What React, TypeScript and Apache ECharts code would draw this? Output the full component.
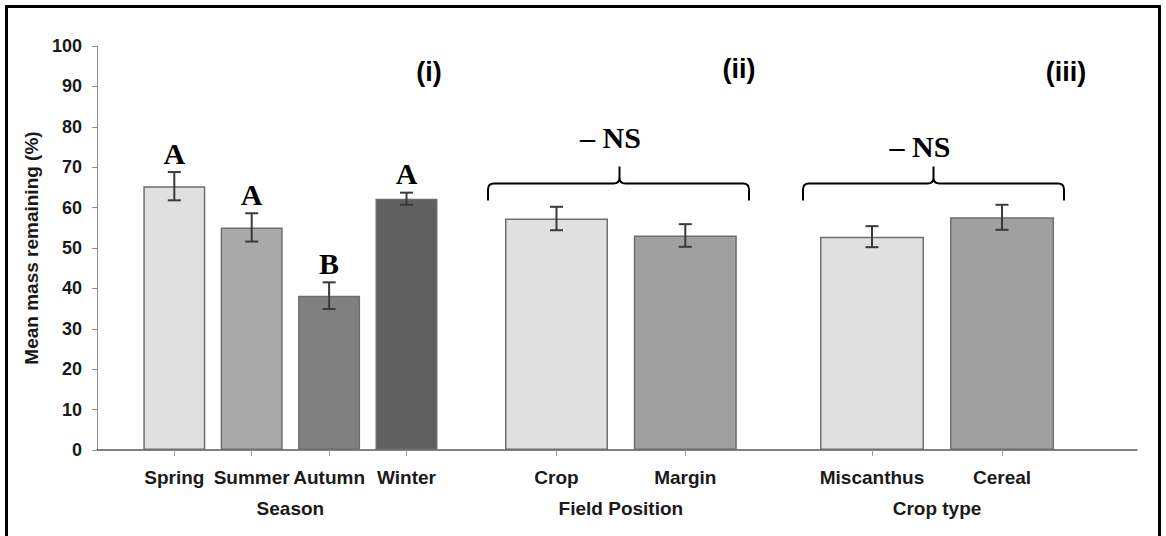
import React, { useEffect, useRef } from "react";
import * as echarts from "echarts";

// ---- data ----
const seasonCats = ["Spring", "Summer", "Autumn", "Winter"];
const seasonMeans = [65.3, 55.1, 38.2, 62.2];
const seasonErrs = [3.5, 3.5, 3.3, 1.5];
const seasonLetters = ["A", "A", "B", "A"];
const seasonColors = ["#e0e0e0", "#aaaaaa", "#808080", "#606060"];

const positionCats = ["Crop", "Margin"];
const positionMeans = [57.3, 53.1];
const positionErrs = [2.9, 2.8];

const cropCats = ["Miscanthus", "Cereal"];
const cropMeans = [52.8, 57.6];
const cropErrs = [2.6, 3.1];

const pairColors = ["#e0e0e0", "#a0a0a0"];

const groupTitles = ["Season", "Field Position", "Crop type"];
const panelLabels = ["(i)", "(ii)", "(iii)"];
const nsLabel = "\u2013 NS";
const yTitle = "Mean mass remaining (%)";
const yMin = 0;
const yMax = 100;
const yStep = 10;

// ---- layout ----
const W = 1166;
const H = 536;
const PLOT_LEFT = 97;
const PLOT_RIGHT = 1137;
const PLOT_TOP = 46;
const PLOT_BOTTOM = 450;

const SANS = '"Liberation Sans", Arial, sans-serif';
const SERIF = '"Liberation Serif", "Times New Roman", serif';
const TEXT = "#1a1a1a";

const groups = [
  { cats: seasonCats, means: seasonMeans, errs: seasonErrs, colors: seasonColors, letters: seasonLetters, left: 135.6, width: 309.6, barWidth: 62 },
  { cats: positionCats, means: positionMeans, errs: positionErrs, colors: pairColors, letters: null, left: 492.1, width: 257.6, barWidth: 103 },
  { cats: cropCats, means: cropMeans, errs: cropErrs, colors: pairColors, letters: null, left: 807, width: 260, barWidth: 104 },
];

// curly braces spanning the two-bar panels
function bracePath(xl: number, xr: number, xc: number, y0: number, drop: number, rise: number, r: number) {
  return (
    `M${xl} ${y0 + drop} L${xl} ${y0 + r} Q${xl} ${y0} ${xl + r} ${y0} L${xc - r} ${y0} ` +
    `Q${xc} ${y0} ${xc} ${y0 - r} L${xc} ${y0 - rise} M${xc} ${y0 - r} Q${xc} ${y0} ${xc + r} ${y0} ` +
    `L${xr - r} ${y0} Q${xr} ${y0} ${xr} ${y0 + r} L${xr} ${y0 + drop}`
  );
}
echarts.graphic.registerShape("braceFieldPosition", echarts.graphic.extendPath(bracePath(488, 749, 619.5, 183.5, 17, 17, 6), {}));
echarts.graphic.registerShape("braceCropType", echarts.graphic.extendPath(bracePath(803, 1064, 933.5, 183.5, 17, 17, 6), {}));

function errorSeries(gi: number, means: number[], errs: number[], letters: string[] | null) {
  return {
    type: "custom",
    xAxisIndex: gi,
    yAxisIndex: gi,
    z: 5,
    encode: { x: 0, y: [1, 2] },
    data: means.map((m, i) => [i, m - errs[i], m + errs[i]]),
    renderItem: (_params: any, api: any) => {
      const idx = api.value(0);
      const lo = api.coord([idx, api.value(1)]);
      const hi = api.coord([idx, api.value(2)]);
      const x = hi[0];
      const cap = 6.5;
      const style = { stroke: "#3a3a3a", lineWidth: 2 };
      const children: any[] = [
        { type: "line", shape: { x1: x, y1: hi[1], x2: x, y2: lo[1] }, style },
        { type: "line", shape: { x1: x - cap, y1: hi[1], x2: x + cap, y2: hi[1] }, style },
        { type: "line", shape: { x1: x - cap, y1: lo[1], x2: x + cap, y2: lo[1] }, style },
      ];
      if (letters) {
        children.push({
          type: "text",
          x,
          y: hi[1] - 19,
          style: {
            text: letters[idx],
            fill: "#000",
            fontFamily: SERIF,
            fontWeight: "bold",
            fontSize: 30,
            align: "center",
            verticalAlign: "middle",
          },
        });
      }
      return { type: "group", children };
    },
  };
}

export default function App() {
  const ref = useRef<HTMLDivElement>(null);

  useEffect(() => {
    if (!ref.current) return;
    const chart = echarts.init(ref.current, undefined, { renderer: "svg" });

    const gridBottom = H - PLOT_BOTTOM;
    const gridHeight = PLOT_BOTTOM - PLOT_TOP;

    const grids: any[] = [
      { left: PLOT_LEFT, top: PLOT_TOP, width: PLOT_RIGHT - PLOT_LEFT, height: gridHeight },
      ...groups.map((g) => ({ left: g.left, top: PLOT_TOP, width: g.width, height: gridHeight })),
    ];

    const xAxes: any[] = [
      {
        type: "value",
        gridIndex: 0,
        min: 0,
        max: 1,
        axisLine: { show: true, lineStyle: { color: "#5a5a5a", width: 1.5 } },
        axisTick: { show: false },
        axisLabel: { show: false },
        splitLine: { show: false },
      },
      ...groups.map((g, i) => ({
        type: "category",
        gridIndex: i + 1,
        data: g.cats,
        axisLine: { show: false },
        axisTick: { show: true, alignWithLabel: true, length: 6, lineStyle: { color: "#9a9a9a", width: 1 } },
        axisLabel: { margin: 18, color: TEXT, fontFamily: SANS, fontWeight: "bold", fontSize: 19, interval: 0 },
        name: groupTitles[i],
        nameLocation: "middle",
        nameGap: 49,
        nameTextStyle: { color: TEXT, fontFamily: SANS, fontWeight: "bold", fontSize: 19 },
      })),
    ];

    const yAxes: any[] = [
      {
        type: "value",
        gridIndex: 0,
        min: yMin,
        max: yMax,
        interval: yStep,
        axisLine: { show: true, lineStyle: { color: "#909090", width: 1 } },
        axisTick: { show: true, length: 5, lineStyle: { color: "#909090" } },
        axisLabel: { margin: 15, color: TEXT, fontFamily: SANS, fontWeight: "bold", fontSize: 18 },
        splitLine: { show: false },
        name: yTitle,
        nameLocation: "middle",
        nameRotate: 90,
        nameGap: 54,
        nameTextStyle: { color: TEXT, fontFamily: SANS, fontWeight: "bold", fontSize: 19 },
      },
      ...groups.map((_g, i) => ({
        type: "value",
        gridIndex: i + 1,
        min: yMin,
        max: yMax,
        show: false,
      })),
    ];

    const series: any[] = [];
    groups.forEach((g, i) => {
      series.push({
        type: "bar",
        xAxisIndex: i + 1,
        yAxisIndex: i + 1,
        barWidth: g.barWidth,
        data: g.means.map((v, k) => ({
          value: v,
          itemStyle: { color: g.colors[k], borderColor: "#6e6e6e", borderWidth: 1.5 },
        })),
        z: 2,
      });
      series.push(errorSeries(i + 1, g.means, g.errs, g.letters));
    });

    const labelText = (text: string, x: number, y: number, font: string) => ({
      type: "text",
      x,
      y,
      silent: true,
      style: { text, font, fill: "#000", align: "center", verticalAlign: "middle" },
    });

    const graphic: any[] = [
      {
        type: "rect",
        silent: true,
        shape: { x: 6.5, y: 6.5, width: 1153, height: 600 },
        style: { fill: "none", stroke: "#000", lineWidth: 3 },
      },
      labelText(panelLabels[0], 429, 72, `bold 27px ${SANS}`),
      labelText(panelLabels[1], 739, 69, `bold 27px ${SANS}`),
      labelText(panelLabels[2], 1066, 72, `bold 27px ${SANS}`),
      labelText(nsLabel, 610.5, 137, `bold 30px ${SERIF}`),
      labelText(nsLabel, 920, 146, `bold 30px ${SERIF}`),
      { type: "braceFieldPosition", x: 0, y: 0, silent: true, style: { fill: "none", stroke: "#000", lineWidth: 2 } },
      { type: "braceCropType", x: 0, y: 0, silent: true, style: { fill: "none", stroke: "#000", lineWidth: 2 } },
    ];

    chart.setOption({
      animation: false,
      backgroundColor: "#ffffff",
      grid: grids,
      xAxis: xAxes,
      yAxis: yAxes,
      series,
      graphic,
    });

    return () => chart.dispose();
  }, []);

  return <div ref={ref} style={{ position: "fixed", left: 0, top: 0, width: W, height: H }} />;
}
